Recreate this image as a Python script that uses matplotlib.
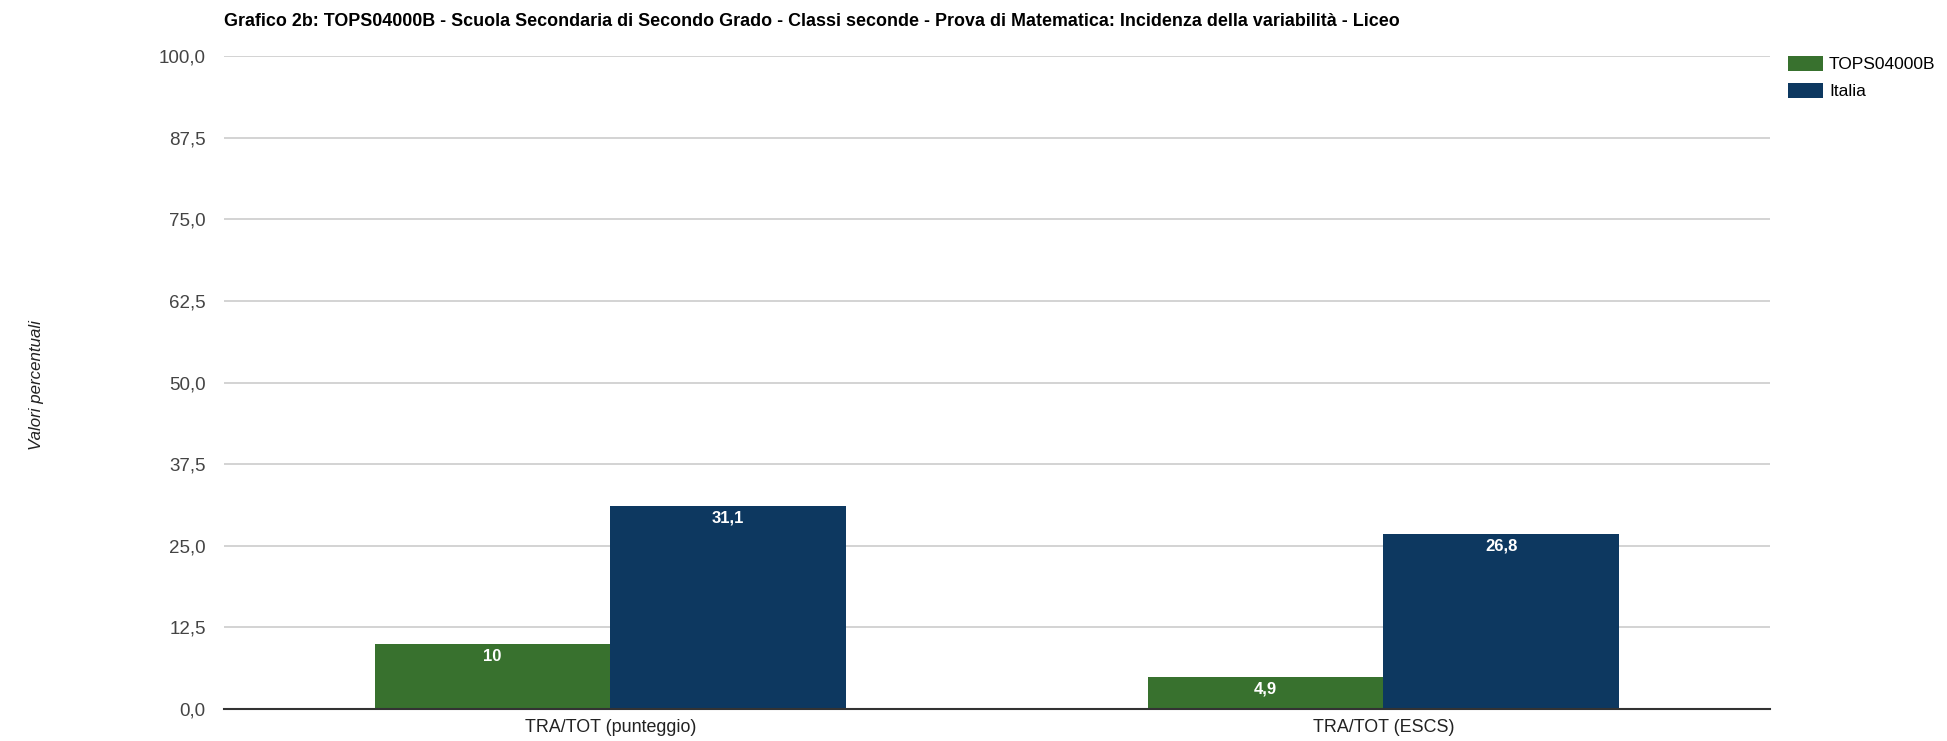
import numpy as np
import matplotlib.pyplot as plt

plt.rcParams['font.family'] = ['Liberation Sans', 'DejaVu Sans']

# Dati
categorie = ['TRA/TOT (punteggio)', 'TRA/TOT (ESCS)']
scuola = [10, 4.9]
italia = [31.1, 26.8]
serie = ['TOPS04000B', 'Italia']
colori = ['#38712e', '#0d3860']
yticks = [0, 12.5, 25, 37.5, 50, 62.5, 75, 87.5, 100]

titolo = ('Grafico 2b: TOPS04000B - Scuola Secondaria di Secondo Grado - Classi seconde - '
          'Prova di Matematica: Incidenza della variabilità - Liceo')


def fmt(v):
    # formato italiano con virgola
    s = f'{v:g}'
    return s.replace('.', ',')


fig = plt.figure(figsize=(19.47, 7.41), dpi=100)
ax = fig.add_axes([0.115, 0.0432, 0.794, 0.8812])

x = np.arange(len(categorie))
w = 0.305
bars1 = ax.bar(x - w / 2, scuola, w, color=colori[0], label=serie[0], zorder=3)
bars2 = ax.bar(x + w / 2, italia, w, color=colori[1], label=serie[1], zorder=3)

for bars, vals in [(bars1, scuola), (bars2, italia)]:
    for b, v in zip(bars, vals):
        ax.annotate(fmt(v), (b.get_x() + b.get_width() / 2, v), xytext=(0, -9),
                    textcoords='offset points', ha='center', va='center',
                    color='white', fontsize=12, fontweight='bold', zorder=4)

ax.set_xlim(-0.5, 1.5)
ax.set_ylim(0, 100)
ax.set_yticks(yticks)
ax.set_yticklabels([f'{t:.1f}'.replace('.', ',') for t in yticks], fontsize=13.5, color='#444444')
ax.set_xticks(x)
ax.set_xticklabels(categorie, fontsize=12.9, color='#222222')
ax.tick_params(axis='y', length=0, pad=13)
ax.tick_params(axis='x', length=0, pad=7)
ax.grid(axis='y', color='#cccccc', linewidth=1.2, zorder=0)
for s in ['top', 'right', 'left']:
    ax.spines[s].set_visible(False)
ax.spines['bottom'].set_color('#333333')
ax.spines['bottom'].set_linewidth(1.5)
ax.spines['bottom'].set_zorder(5)

fig.text(0.019, 0.48, 'Valori percentuali', rotation=90, style='italic',
         fontsize=12.2, color='#222222', ha='center', va='center')
fig.text(0.115, 0.982, titolo, fontsize=12.9, fontweight='bold', color='#000000',
         ha='left', va='top')

fig.legend(loc='upper left', bbox_to_anchor=(0.9185, 0.925), frameon=False,
           fontsize=12.5, handlelength=2.0, handleheight=1.0, handletextpad=0.35,
           labelspacing=0.6, borderaxespad=0, borderpad=0)

fig.savefig('out.png', dpi=100)
